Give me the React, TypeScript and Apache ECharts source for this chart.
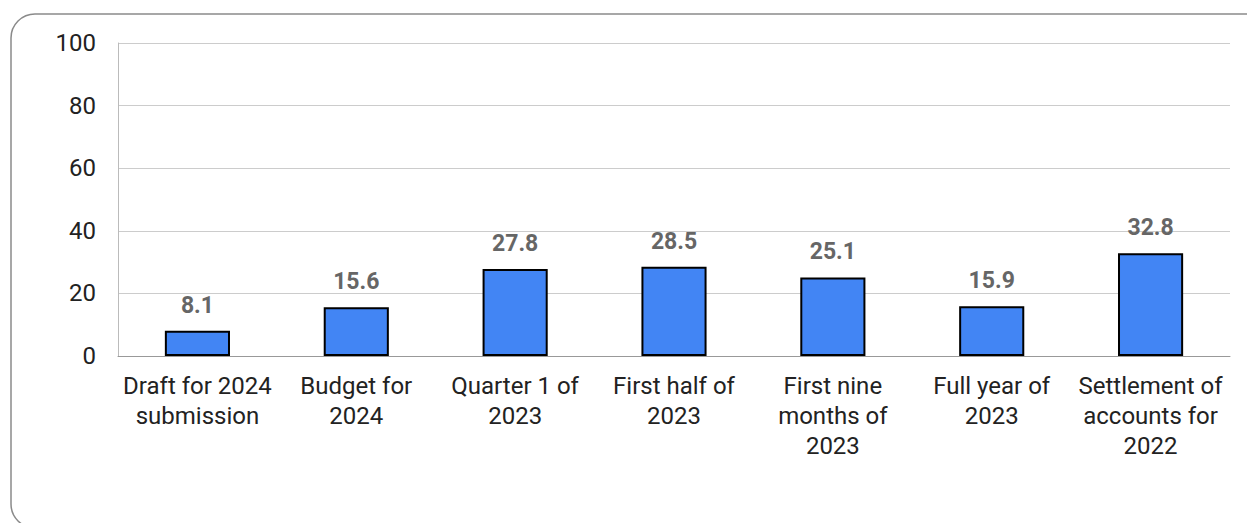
import React, { useEffect, useRef } from "react";
import * as echarts from "echarts";

const categories = [
  "Draft for 2024\nsubmission",
  "Budget for\n2024",
  "Quarter 1 of\n2023",
  "First half of\n2023",
  "First nine\nmonths of\n2023",
  "Full year of\n2023",
  "Settlement of\naccounts for\n2022",
];
const values = [8.1, 15.6, 27.8, 28.5, 25.1, 15.9, 32.8];
const yTicks = { min: 0, max: 100, interval: 20 };

export default function App() {
  const ref = useRef<HTMLDivElement>(null);
  useEffect(() => {
    if (!ref.current) return;
    const chart = echarts.init(ref.current, undefined, { renderer: "svg" });
    chart.setOption({
      animation: false,
      backgroundColor: "#ffffff",
      textStyle: { fontFamily: "Roboto" },
      graphic: [
        {
          type: "rect",
          shape: { x: 11, y: 14, width: 1262, height: 514, r: 24 },
          style: { fill: "none", stroke: "#8a8a8a", lineWidth: 1.5 },
          silent: true,
          z: -1,
        },
      ],
      grid: { left: 118, right: 17, top: 43, bottom: 167 },
      xAxis: {
        type: "category",
        data: categories,
        axisTick: { show: false },
        axisLine: { show: true, lineStyle: { color: "#999999", width: 1 } },
        axisLabel: {
          color: "#222222",
          fontSize: 24,
          lineHeight: 30,
          margin: 15,
          interval: 0,
          fontFamily: "Roboto",
        },
      },
      yAxis: {
        type: "value",
        min: yTicks.min,
        max: yTicks.max,
        interval: yTicks.interval,
        axisLine: { show: true, lineStyle: { color: "#bbbbbb" } },
        axisTick: { show: false },
        splitLine: { lineStyle: { color: "#cccccc", width: 1 } },
        axisLabel: { color: "#222222", fontSize: 24, margin: 22, fontFamily: "Roboto" },
      },
      series: [
        {
          type: "bar",
          data: values,
          barWidth: "41%",
          itemStyle: { color: "#4285F4", borderColor: "#000000", borderWidth: 2 },
          label: {
            show: true,
            position: "top",
            distance: 14,
            color: "#666666",
            fontSize: 23,
            fontWeight: "bold",
            fontFamily: "Roboto",
          },
        },
      ],
    });
    return () => chart.dispose();
  }, []);
  return (
    <div
      ref={ref}
      style={{ position: "fixed", left: 0, top: 0, width: 1247, height: 523 }}
    />
  );
}
